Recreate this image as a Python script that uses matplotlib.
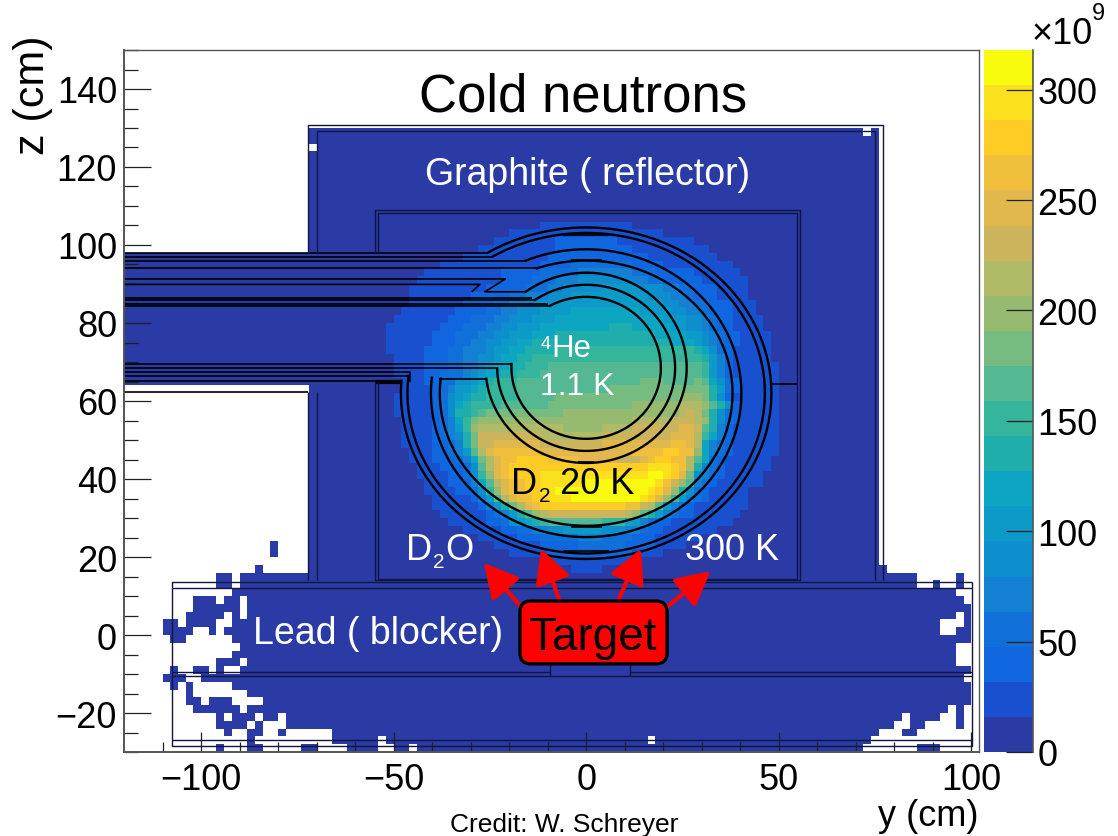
import numpy as np
import matplotlib
matplotlib.use("Agg")
import matplotlib.pyplot as plt
from matplotlib.colors import ListedColormap, BoundaryNorm
from matplotlib.patches import FancyBboxPatch

plt.rcParams["font.family"] = ["Liberation Sans", "DejaVu Sans"]

W, H = 1118, 837

# ROOT palette bands of the colour scale, bottom to top
band_colors = ["#2a3ba6", "#1850cf", "#1066de", "#116fd9", "#1380d3", "#0e8fcd", "#0c9bc8",
               "#0ca6c2", "#20aeac", "#35b69c", "#54b892", "#76bb80", "#96bb70", "#b1ba66",
               "#ccb45c", "#e0b84c", "#f0bf3c", "#fdcd26", "#fbe01e", "#f9fb0e"]
z_max = 318.0   # in units of 1e9
band_size = z_max / 20
level_chars = "0123456789abcdefghij"

# core of the flux map: one char per 2 cm bin = colour band, y from -52 cm, z from 104 cm down
core_rows = [
    "0000000000 0000000000 1111111111 1100000000 0000000000 0",
    "0000000000 0000001111 1111111111 1111110000 0000000000 0",
    "0000000000 0000111111 1122222222 1111111111 0000000000 0",
    "0000000000 0011111111 1122222222 2211111111 1100000000 0",
    "0000000000 1111111111 1222222222 2222111111 1110000000 0",
    "0000000111 1111111111 2222333333 3322221111 1111100000 0",
    "0000011111 1111122222 3333344444 4433322222 1111110000 0",
    "0000111111 1111122223 3344455555 5444332222 2111111000 0",
    "0001111111 1112222233 3445555566 6665554433 2221111000 0",
    "0001111111 1222223344 4555666666 6666555443 2221111000 0",
    "0001111111 2222334445 5566666666 6666665544 3322211100 0",
    "0011111112 2223344555 6666777777 7776666554 4322211100 0",
    "0111111122 2333445556 6677777777 7777776665 5432211110 0",
    "1111111222 3334455666 7777777778 8877777665 5432211110 0",
    "1111112223 3344556667 7788888888 8888877776 6543221111 0",
    "1111112223 3445566778 8888888888 8888888777 6543221111 0",
    "1111122233 4445667788 8899999999 9999999999 8753211111 0",
    "0111122233 4455677889 9999999999 9999999999 9864211111 0",
    "0111122233 4456778899 9aaaaaaaaa aaaaaaaaaa a964211111 1",
    "0111122333 4567788999 aaaaaaaaaa aaaaaaaaaa a964211111 1",
    "0011122335 5678999aaa aaaaaaaaaa aaabbbaaaa ba75321111 1",
    "0011112346 6789999aaa aaaaaaaaab bbbbbbbbbb bb86321111 1",
    "0111112356 7889999aaa aabbbbbbbb bbbbbbbbcc cb85211111 1",
    "0111112357 89999aaaaa abbbbbbbbb bbccccccdd dca8521111 1",
    "0111112358 89abbbbbbb bbbccccccc ccccccccde db85321111 1",
    "0011112347 9bcccccccc cccccccccc ccdddddeee dc85321111 1",
    "0011112346 9cdddddddd dddcccccdd ddeeeeeeff ea84211111 1",
    "0011112345 8beeeeeeee ddddddddee eeeeeeefff d974211111 1",
    "0011112234 8beeffffff eeeeeeeeff fffffffggf d743211111 1",
    "0001112234 6adfgggggg ffffffffff ffgggghhgg c743211111 1",
    "0001112223 47bdfgghhh hggggfffff eeefghhggd a732111111 0",
    "0000111222 35adfghhhh hhhhhhhhhh hhhhiiihgd 8432111111 0",
    "0000111122 359cfghhhh iiiiiiiiii iiiijjihfb 5432111110 0",
    "0000011122 247adfgghh iiiiiijjjj jjjjjigeca 4321111110 0",
    "0000011112 2359cfgghh iijjjjjjjj jjjjihfc85 3211111000 0",
    "0000001111 1246adfggh hiiijjjjjj jjjihfc964 3211111000 0",
    "0000001111 11246 8bdfg hhhhhhhhhh hggeda6432 1111111000 0",
    "0000000111 1112346 8ac deeeeeeeee edca864322 1111110000 0",
    "0000000011 1112235678 9aaaaaaa99 9764322111 1111100000 0",
    "0000000000 1111122334 4556666655 5443221111 1110000000 0",
    "0000000000 0011111222 3333344433 3322211111 1000000000 0",
    "0000000000 0000111111 2222233333 3222211110 0000000000 0",
    "0000000000 0000001111 1222222222 2211110000 0000000000 0",
    "0000000000 0000000000 1111111111 1100000000 0000000000 0",
    "0000000000 0000000000 0000111100 0000000000 0000000000 0",
]

# patchy ends of the lead block, '.' = empty bin. y from -110 cm, z from 22 cm down
lead_left_rows = [
    "..............0....", "..............0....", "...................",
    "............0......",
    ".......00.", ".......00.", ".........",
    "....000.00.", "....000000.", "...00000.0.", "00.0000..", "0000..0.",
    ".00......", "..........", ".........", ".......000.", ".0..00.0..",
    "000..", ".0.0.....", "...0.......", "...00.000....", "....000000.",
    ".......0.000.00.", ".......0000.0...", "........0..00..0......",
    "...........0..........000000.",
    ".......0...00.....00....0000..00.0",
]
# y from 70 cm, z from 16 cm down
lead_right_rows = [
    "0000", "00000000.....0", "00000000..0..0", "0000000000000", "00000000000000",
    "000000000000000", "0000000000000.0", "00000000000...0", "00000000000..00",
    "000000000000000", "0000000000000", "0000000000000", "0000000000000",
    "000000000000000", "00000000000000", "000000000000000", "000000000000000",
    "000000000000000", "000000000000.0.", "000000.0000..0.", "00000..00....0.",
    "000...00", "00", "0.......000",
]

y_edges = np.arange(-120, 104, 2)
z_edges = np.arange(-30, 152, 2)
levels = np.full((len(z_edges) - 1, len(y_edges) - 1), -1)


def col(y):
    return (y + 120) // 2


def row(z):
    return (z + 30) // 2


# lead middle, then both ends
levels[row(-30):row(14), col(-42):col(70)] = 0
for n, txt in enumerate(lead_left_rows):
    txt = txt.ljust(34, "0")
    for j, c in enumerate(txt):
        if c != ".":
            levels[row(22 - 2 * n), col(-110) + j] = 0
for n, txt in enumerate(lead_right_rows):
    txt = txt.ljust(16, ".")
    for j, c in enumerate(txt):
        if c != ".":
            levels[row(16 - 2 * n), col(70) + j] = 0
levels[row(-28), col(16)] = -1

# graphite reflector + extraction channel
levels[row(14):row(130), col(-72):col(76)] = 0
levels[row(64):row(98), col(-120):col(-72)] = 0
levels[row(128), col(72)] = -1
levels[row(124), col(-72)] = -1

for n, txt in enumerate(core_rows):
    txt = txt.replace(" ", "")
    if len(txt) != 51:
        print("bad row", n, len(txt))
    for j, c in enumerate(txt[:51]):
        levels[row(104 - 2 * n), col(-52) + j] = level_chars.index(c)

flux = np.ma.masked_less((levels + 0.5) * band_size, 0)

cmap = ListedColormap(band_colors)
norm = BoundaryNorm(np.linspace(0, z_max, 21), 20)

fig = plt.figure(figsize=(W / 100, H / 100), dpi=100)
ax = fig.add_axes([124 / W, 1 - 753 / H, (979 - 124) / W, (753 - 51) / H])
ax.pcolormesh(y_edges, z_edges, flux, cmap=cmap, norm=norm, zorder=1)
ax.set_xlim(-120, 102)
ax.set_ylim(-30, 150)

LINE = dict(color="black", lw=1.2, zorder=3, solid_capstyle="butt")
THIN = dict(color="#10163f", lw=1.0, zorder=3, solid_capstyle="butt")


def ring(a, b, zc, start_z, end_y):
    # half open ellipse, from the left end round the bottom to the top end
    t0 = np.pi + np.arcsin((zc - start_z) / b)
    t1 = 2 * np.pi + np.arccos(end_y / a)
    t = np.linspace(t0, t1, 300)
    return a * np.cos(t), zc + b * np.sin(t)


# (a, b, zc, start z, end y)
for a, b, zc, sz, ey in [(19.4, 18.2, 68.5, 69.5, -9.4), (23.1, 21.3, 68.5, 68.4, -13.3),
                         (26.1, 24.4, 68.5, 65.7, -15.7), (38.0, 34.0, 62.0, 65.7, -12.8),
                         (40.3, 36.9, 62.0, 66.0, -15.7), (46.4, 41.1, 62.0, 66.4, -24.3),
                         (48.1, 42.5, 62.0, 65.2, -25.5)]:
    px, pz = ring(a, b, zc, sz, ey)
    ax.plot(px, pz, color="black", lw=1.7, zorder=3)

# channel walls going out to the left
for pts in [[(-120, 69.5), (-19.3, 69.5)], [(-120, 68.4), (-22.9, 68.4)],
            [(-120, 67.4), (-45.8, 67.4), (-45.8, 65.0)], [(-120, 66.5), (-45.8, 66.5)],
            [(-120, 65.2), (-47.9, 65.2)], [(-38.2, 65.7), (-25.9, 65.7)],
            [(-120, 84.4), (-9.4, 84.4)], [(-120, 84.8), (-10, 84.8)],
            [(-120, 85.9), (-13.3, 85.9)], [(-120, 86.5), (-14, 86.5)],
            [(-120, 89.9), (-27.6, 89.9), (-29.7, 88.0)],
            [(-120, 91.3), (-21, 91.3), (-26.3, 88.0), (-15.7, 88.0)],
            [(-120, 94.0), (-12.8, 94.0)], [(-120, 96.0), (-15.7, 96.0)],
            [(-120, 97.0), (-24.3, 97.0)], [(-120, 98.0), (-25.5, 98.0)],
            [(-120, 62.4), (-72.2, 62.4)], [(48.1, 64.4), (55, 64.4)]]:
    ax.plot(*zip(*pts), **LINE)
ax.plot([-54.9, -47.9], [64.8, 64.8], color="black", lw=3.0, zorder=3, solid_capstyle="butt")

# flat pieces on the vessels
for y0, y1, z in [(-5.9, 5.8, 102.6), (-5.9, 5.8, 21.6), (-4, 4, 96.2), (-4, 4, 27.7),
                  (-2, 2, 92.8), (-2, 2, 44.3)]:
    ax.plot([y0, y1], [z, z], **LINE)

# graphite box, two outlines
for pts in [[(-72.2, 98), (-72.2, 130.8), (77, 130.8), (77, 14)], [(-72.2, 62.4), (-72.2, 14)],
            [(-70, 98), (-70, 129.2), (75, 129.2), (75, 14)], [(-70, 62.4), (-70, 14)]]:
    ax.plot(*zip(*pts), **THIN)
# inner box
for pts in [[(-54.9, 98), (-54.9, 109), (55.4, 109), (55.4, 14), (-54.9, 14), (-54.9, 64.8)],
            [(-54, 98), (-54, 108.3), (54.8, 108.3), (54.8, 14.4), (-54, 14.4), (-54, 64.8)]]:
    ax.plot(*zip(*pts), **THIN)
# lead block
for pts in [[(-107.5, 12), (-107.5, 13.6), (100.2, 13.6)], [(-107.5, 12), (100.2, 12)],
            [(-107.5, 12), (-107.5, -28.5), (100.2, -28.5), (100.2, -27)],
            [(-107.5, -27), (100.2, -27), (100.2, 13.6)],
            [(-107.5, -9.5), (-9.4, -9.5), (-9.4, -10.5)], [(11.4, -10.5), (11.4, -9.5), (100.2, -9.5)],
            [(-107.5, -10.5), (100.2, -10.5)], [(-9.4, -7.4), (-9.4, -9.5)], [(11.4, -7.4), (11.4, -9.5)]]:
    ax.plot(*zip(*pts), **THIN)

# target box and arrows
ax.add_patch(FancyBboxPatch((-17.2, -7.4), 38.2, 16.1, boxstyle="round,pad=0,rounding_size=2.8",
                            fc="#ff0000", ec="black", lw=2.4, zorder=5))
for start, tip in [((-17.2, 7.5), (-26.6, 18.5)), ((-6.8, 8.5), (-11.7, 22.1)),
                   ((8.2, 8.5), (14.2, 22.1)), ((21, 7.2), (32.3, 16.4))]:
    ax.annotate("", xy=tip, xytext=start, zorder=4,
                arrowprops=dict(arrowstyle="-|>,head_length=0.8,head_width=0.42", color="#ff0000",
                                lw=3, mutation_scale=26, shrinkA=0, shrinkB=0))

# axes, ROOT look: ticks inside
for side in ax.spines:
    ax.spines[side].set_color("#555555")
    ax.spines[side].set_linewidth(1.4 if side in ("left", "bottom") else 1.0)
    ax.spines[side].set_zorder(6)
ax.set_axisbelow(False)
ax.set_xticks(np.arange(-100, 101, 50))
ax.set_xticks(np.arange(-110, 101, 10), minor=True)
ax.set_yticks(np.arange(-20, 141, 20))
ax.set_yticks(np.arange(-30, 151, 5), minor=True)
ax.tick_params(axis="x", which="major", direction="in", length=14.4, width=0.9, color="#222222",
               labelsize=26, pad=7)
ax.tick_params(axis="x", which="minor", direction="in", length=7.2, width=0.9, color="#222222")
ax.tick_params(axis="y", which="major", direction="in", length=19.4, width=0.9, color="#222222",
               labelsize=26, pad=5)
ax.tick_params(axis="y", which="minor", direction="in", length=10, width=0.9, color="#222222")

# colour scale
cax = fig.add_axes([984 / W, 1 - 753 / H, (1033 - 984) / W, (753 - 51) / H])
band_edges = np.linspace(0, z_max, 21)
cax.pcolormesh([0, 1], band_edges, ((band_edges[:-1] + band_edges[1:]) / 2).reshape(-1, 1),
               cmap=cmap, norm=norm)
cax.set_xticks([])
cax.yaxis.tick_right()
cax.set_yticks(np.arange(0, 301, 50))
cax.tick_params(axis="y", direction="in", length=19.4, width=0.9, color="#222222", labelsize=26, pad=3)
for side in ("top", "left", "bottom"):
    cax.spines[side].set_visible(False)
cax.spines["right"].set_color("#555555")
cax.spines["right"].set_linewidth(1.2)


def label(px, py, s, size, color="black", ha="center", rotation=0):
    fig.text(px / W, 1 - py / H, s, fontsize=size, color=color, ha=ha, va="center",
             rotation=rotation, zorder=10)


label(583, 97, "Cold neutrons", 38)
label(588, 175, "Graphite ( reflector)", 27, "white")
label(253, 634, "Lead ( blocker)", 27, "white", ha="left")
label(593, 638, "Target", 33)
label(551, 349, "He", 22.5, "white", ha="left")
label(541, 345, "4", 13, "white", ha="left")
label(540, 387, "1.1 K", 23, "white", ha="left")
label(511, 485, "D", 26, ha="left")
label(539, 497, "2", 15, ha="left")
label(560, 485, "20 K", 26, ha="left")
label(406, 550, "D", 26, "white", ha="left")
label(433, 563, "2", 15, "white", ha="left")
label(445, 550, "O", 26, "white", ha="left")
label(685, 550, "300 K", 26, "white", ha="left")
label(564, 825, "Credit: W. Schreyer", 19)
label(978, 817, "y (cm)", 26, ha="right")
label(33, 95, "z (cm)", 31, rotation=90)
label(1032, 35, "×10", 26, ha="left")
label(1092, 14, "9", 17, ha="left")

fig.savefig("out.png", dpi=100)
